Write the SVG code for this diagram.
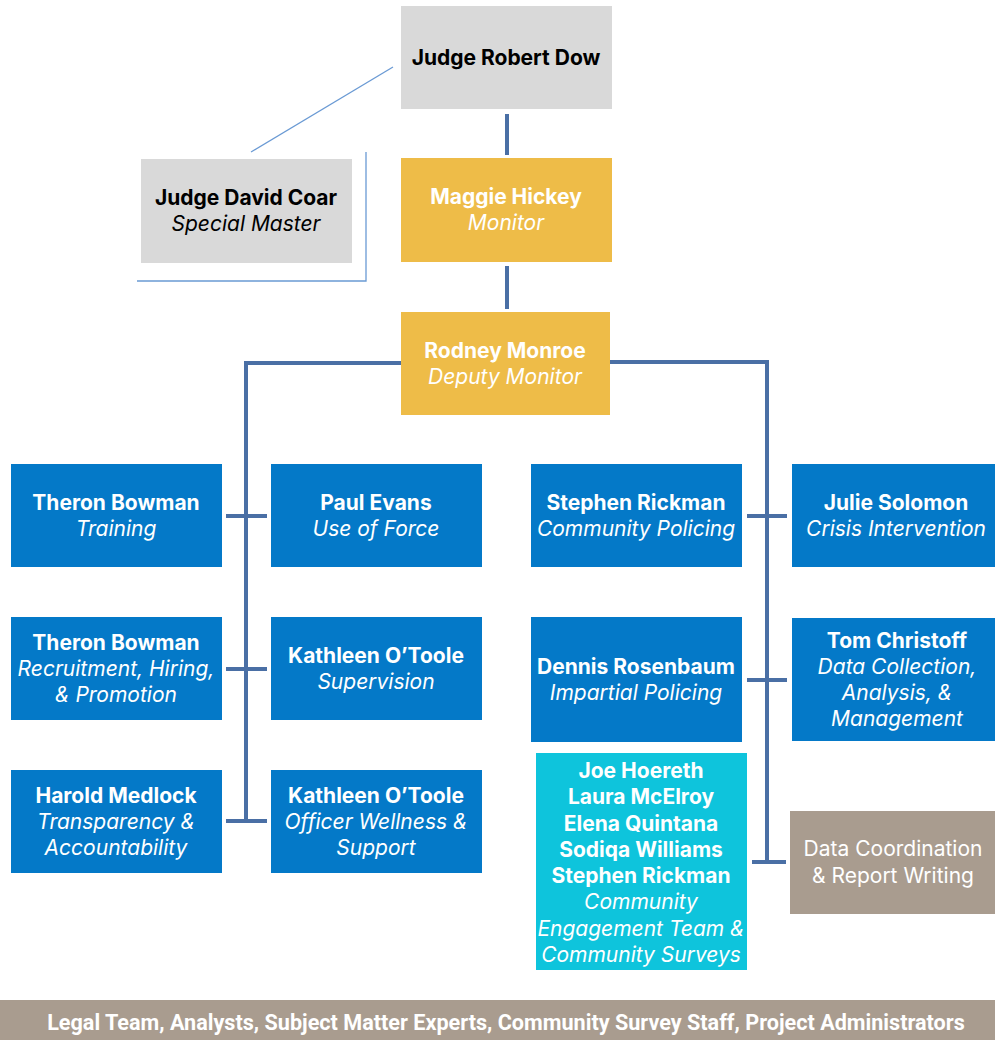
<svg xmlns="http://www.w3.org/2000/svg" width="995" height="1040" viewBox="0 0 995 1040">
<style>
.t{font-family:Inter,"Open Sans","Noto Sans",sans-serif;font-size:21px;text-anchor:middle}
.b{font-weight:bold}
.i{font-style:italic}
.w{fill:#ffffff}
.k{fill:#000000}
.gray{fill:#d9d9d9}
.gold{fill:#eebc48}
.blue{fill:#0479c8}
.cyan{fill:#0ec4dc}
.tan{fill:#a99c8f}
.thick{stroke:#4a6fa5;stroke-width:4;fill:none}
.thin{stroke:#6a9ad4;stroke-width:1.3;fill:none}
.bar{font-family:Roboto,"Liberation Sans",sans-serif;font-size:21.6px;font-weight:bold;text-anchor:middle;fill:#ffffff}
</style>
<rect width="995" height="1040" fill="#ffffff"/>
<g id="connectors">
<line class="thin" x1="393" y1="67" x2="251" y2="152"/>
<polyline class="thin" points="366,152 366,281 137,281"/>
<line class="thick" x1="507" y1="114" x2="507" y2="155"/>
<line class="thick" x1="507" y1="266" x2="507" y2="309"/>
<polyline class="thick" points="401,363 246,363 246,822"/>
<polyline class="thick" points="610,362 767,362 767,863"/>
<line class="thick" x1="226" y1="516" x2="267" y2="516"/>
<line class="thick" x1="226" y1="669" x2="267" y2="669"/>
<line class="thick" x1="226" y1="821" x2="267" y2="821"/>
<line class="thick" x1="747" y1="516" x2="787" y2="516"/>
<line class="thick" x1="747" y1="680" x2="787" y2="680"/>
<line class="thick" x1="752" y1="862" x2="786" y2="862"/>
</g>
<g id="dow"><rect class="gray" x="401" y="6" width="211" height="103"/><text class="t b k" x="506" y="65">Judge Robert Dow</text></g>
<g id="coar"><rect class="gray" x="141" y="159" width="211" height="104"/><text class="t b k" x="246" y="205">Judge David Coar</text><text class="t i k" x="246" y="231">Special Master</text></g>
<g id="hickey"><rect class="gold" x="401" y="158" width="211" height="104"/><text class="t b w" x="506" y="204">Maggie Hickey</text><text class="t i w" x="506" y="230">Monitor</text></g>
<g id="monroe"><rect class="gold" x="401" y="312" width="209" height="103"/><text class="t b w" x="505" y="358">Rodney Monroe</text><text class="t i w" x="505" y="384">Deputy Monitor</text></g>
<g id="bowman1"><rect class="blue" x="11" y="464" width="211" height="103"/><text class="t b w" x="116" y="510">Theron Bowman</text><text class="t i w" x="116" y="536">Training</text></g>
<g id="evans"><rect class="blue" x="271" y="464" width="211" height="103"/><text class="t b w" x="376" y="510">Paul Evans</text><text class="t i w" x="376" y="536">Use of Force</text></g>
<g id="bowman2"><rect class="blue" x="11" y="617" width="211" height="103"/><text class="t b w" x="116" y="650">Theron Bowman</text><text class="t i w" x="116" y="676">Recruitment, Hiring,</text><text class="t i w" x="116" y="702">&amp; Promotion</text></g>
<g id="otoole1"><rect class="blue" x="271" y="617" width="211" height="103"/><text class="t b w" x="376" y="663">Kathleen O’Toole</text><text class="t i w" x="376" y="689">Supervision</text></g>
<g id="medlock"><rect class="blue" x="11" y="770" width="211" height="103"/><text class="t b w" x="116" y="803">Harold Medlock</text><text class="t i w" x="116" y="829">Transparency &amp;</text><text class="t i w" x="116" y="855">Accountability</text></g>
<g id="otoole2"><rect class="blue" x="271" y="770" width="211" height="103"/><text class="t b w" x="376" y="803">Kathleen O’Toole</text><text class="t i w" x="376" y="829">Officer Wellness &amp;</text><text class="t i w" x="376" y="855">Support</text></g>
<g id="rickman"><rect class="blue" x="531" y="464" width="211" height="103"/><text class="t b w" x="636" y="510">Stephen Rickman</text><text class="t i w" x="636" y="536">Community Policing</text></g>
<g id="solomon"><rect class="blue" x="792" y="464" width="203" height="103"/><text class="t b w" x="896" y="510">Julie Solomon</text><text class="t i w" x="896" y="536">Crisis Intervention</text></g>
<g id="rosenbaum"><rect class="blue" x="531" y="617" width="211" height="125"/><text class="t b w" x="636" y="674">Dennis Rosenbaum</text><text class="t i w" x="636" y="700">Impartial Policing</text></g>
<g id="christoff"><rect class="blue" x="792" y="618" width="203" height="123"/><text class="t b w" x="897" y="648">Tom Christoff</text><text class="t i w" x="897" y="674">Data Collection,</text><text class="t i w" x="897" y="700">Analysis, &amp;</text><text class="t i w" x="897" y="726">Management</text></g>
<g id="engagement"><rect class="cyan" x="536" y="753" width="211" height="217"/>
<text class="t b w" x="641" y="778">Joe Hoereth</text><text class="t b w" x="641" y="804">Laura McElroy</text><text class="t b w" x="641" y="831">Elena Quintana</text><text class="t b w" x="641" y="857">Sodiqa Williams</text><text class="t b w" x="641" y="883">Stephen Rickman</text><text class="t i w" x="641" y="909">Community</text><text class="t i w" x="641" y="936">Engagement Team &amp;</text><text class="t i w" x="641" y="962">Community Surveys</text></g>
<g id="datacoord"><rect class="tan" x="790" y="811" width="205" height="103"/><text class="t w" x="893" y="856">Data Coordination</text><text class="t w" x="893" y="883">&amp; Report Writing</text></g>
<g id="staff"><rect class="tan" x="0" y="1000" width="995" height="40"/><text class="bar" x="506" y="1030">Legal Team, Analysts, Subject Matter Experts, Community Survey Staff, Project Administrators</text></g>
</svg>
